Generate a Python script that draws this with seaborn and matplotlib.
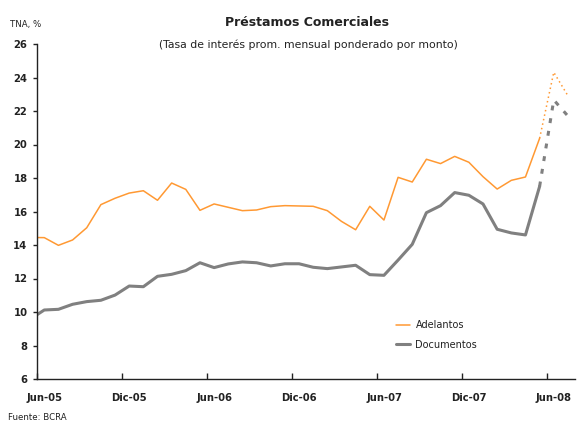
import numpy as np
import pandas as pd
import matplotlib
matplotlib.use("Agg")
import matplotlib.pyplot as plt
import seaborn as sns

# ---- data ----
nombres_mes = ["Ene", "Feb", "Mar", "Abr", "May", "Jun", "Jul", "Ago", "Sep", "Oct", "Nov", "Dic"]
meses = [f"{nombres_mes[(4 + k) % 12]}-{(5 + (4 + k) // 12):02d}" for k in range(39)]  # May-05 .. Jul-08

adelantos = [14.45, 14.44, 13.98, 14.30, 15.03, 16.41, 16.79, 17.10, 17.24, 16.67,
             17.70, 17.32, 16.07, 16.45, 16.25, 16.05, 16.09, 16.29, 16.35, 16.33,
             16.31, 16.05, 15.41, 14.91, 16.31, 15.49, 18.04, 17.76, 19.12, 18.86,
             19.29, 18.94, 18.08, 17.34, 17.86, 18.06, 20.37, 24.31, 22.91]
documentos = [9.57, 10.12, 10.16, 10.46, 10.62, 10.70, 11.01, 11.55, 11.51, 12.13,
              12.25, 12.47, 12.94, 12.65, 12.87, 12.99, 12.94, 12.75, 12.88, 12.88,
              12.67, 12.59, 12.69, 12.79, 12.23, 12.19, 13.10, 14.04, 15.93, 16.35,
              17.13, 16.97, 16.45, 14.94, 14.72, 14.60, 17.50, 22.66, 21.70]
n_proyeccion = 2  # last two months shown dotted (estimates)
etiquetas_x = ["Jun-05", "Dic-05", "Jun-06", "Dic-06", "Jun-07", "Dic-07", "Jun-08"]
yticks = [6, 8, 10, 12, 14, 16, 18, 20, 22, 24, 26]

naranja = "#FF9933"
gris = "#808080"
oscuro = "#222222"

pos = np.arange(len(meses)) - 1  # Jun-05 -> 0
df = pd.DataFrame({"pos": pos, "mes": meses, "Adelantos": adelantos, "Documentos": documentos})
corte = len(df) - n_proyeccion - 1
df_real = df.iloc[:corte + 1]
df_proy = df.iloc[corte:]

sns.set_style("white")
plt.rcParams["font.family"] = ["DejaVu Sans"]

fig = plt.figure(figsize=(5.81, 4.24), dpi=100)
ax = fig.add_axes([37.2 / 581, 1 - 379 / 424, (575 - 37.2) / 581, (379 - 44) / 424])

sns.lineplot(data=df_real, x="pos", y="Adelantos", color=naranja, lw=1.1, label="Adelantos", ax=ax)
sns.lineplot(data=df_real, x="pos", y="Documentos", color=gris, lw=2.2, label="Documentos", ax=ax)
sns.lineplot(data=df_proy, x="pos", y="Adelantos", color=naranja, lw=1.1, ls=(0, (1, 2)), legend=False, ax=ax)
sns.lineplot(data=df_proy, x="pos", y="Documentos", color=gris, lw=2.2, ls=(0, (1.6, 2.6)), legend=False, ax=ax)

ax.set_xlim(-0.5, 37.5)
ax.set_ylim(6, 26)
ax.set_xlabel("")
ax.set_ylabel("")

for s in ["top", "right"]:
    ax.spines[s].set_visible(False)
for s in ["left", "bottom"]:
    ax.spines[s].set_color(oscuro)
    ax.spines[s].set_linewidth(1.0)

# x: boundary ticks pointing up, labels centred on months
label_pos = [df.loc[df["mes"] == m, "pos"].iloc[0] for m in etiquetas_x]
ax.set_xticks([p - 0.5 for p in label_pos])
ax.set_xticklabels([])
ax.tick_params(axis="x", which="major", direction="in", length=4, width=1, color=oscuro, bottom=True)
ax.set_xticks(label_pos, minor=True)
ax.set_xticklabels(etiquetas_x, minor=True, fontsize=7.2, fontweight="bold", color=oscuro)
ax.tick_params(axis="x", which="minor", length=0, pad=10)

ax.set_yticks(yticks)
ax.set_yticklabels([str(v) for v in yticks], fontsize=7.2, fontweight="bold", color=oscuro)
ax.tick_params(axis="y", direction="out", length=3, width=1, color=oscuro, left=True, pad=4)

leg = ax.legend(loc="upper left", bbox_to_anchor=(396 / 581, 1 - 320 / 424), bbox_transform=fig.transFigure,
                frameon=False, fontsize=7, handlelength=1.4, handletextpad=0.6, labelspacing=1.0,
                borderaxespad=0, borderpad=0)
for t in leg.get_texts():
    t.set_color(oscuro)

fig.text(307 / 581, 1 - 22 / 424, "Préstamos Comerciales", ha="center", va="center",
         fontsize=9, fontweight="bold", color=oscuro)
fig.text(308 / 581, 1 - 45 / 424, "(Tasa de interés prom. mensual ponderado por monto)", ha="center",
         va="center", fontsize=7.8, color=oscuro)
fig.text(10 / 581, 1 - 24 / 424, "TNA, %", ha="left", va="center", fontsize=6.2, color=oscuro)
fig.text(8 / 581, 1 - 417 / 424, "Fuente: BCRA", ha="left", va="center", fontsize=6.2, color=oscuro)

fig.savefig("out.png", dpi=100)
